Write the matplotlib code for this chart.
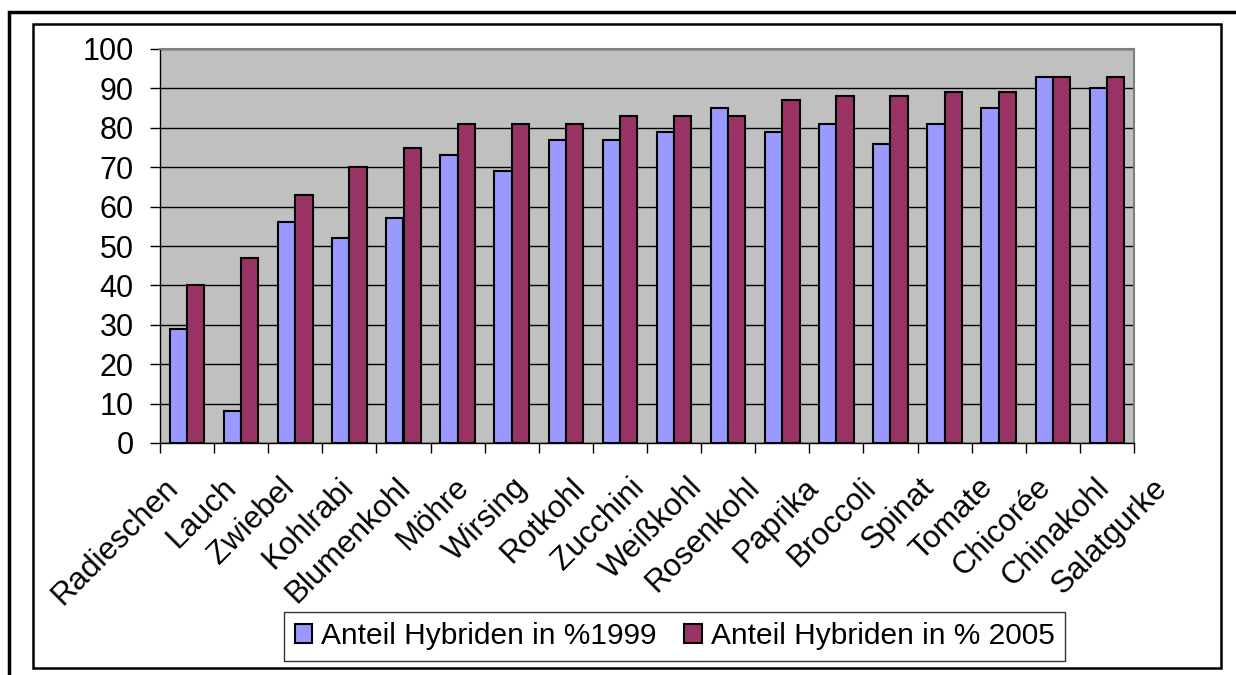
import numpy as np
import matplotlib.pyplot as plt
from matplotlib.patches import Rectangle

plt.rcParams['font.family'] = ['Liberation Sans', 'DejaVu Sans']

gemuese = ["Radieschen", "Lauch", "Zwiebel", "Kohlrabi", "Blumenkohl", "Möhre",
           "Wirsing", "Rotkohl", "Zucchini", "Weißkohl", "Rosenkohl", "Paprika",
           "Broccoli", "Spinat", "Tomate", "Chicorée", "Chinakohl", "Salatgurke"]
anteil_1999 = [29, 8, 56, 52, 57, 73, 69, 77, 77, 79, 85, 79, 81, 76, 81, 85, 93, 90]
anteil_2005 = [40, 47, 63, 70, 75, 81, 81, 81, 83, 83, 83, 87, 88, 88, 89, 89, 93, 93]
legende = ["Anteil Hybriden in %1999", "Anteil Hybriden in % 2005"]

fig = plt.figure(figsize=(12.36, 6.75), dpi=100)

# frames like the pasted excel chart
fig.patches.append(Rectangle((9 / 1236, -0.1), 1.2, 1 - 12 / 675 + 0.1, transform=fig.transFigure,
                             fill=False, edgecolor='black', lw=2.5, zorder=0))
fig.patches.append(Rectangle((33 / 1236, 1 - 668 / 675), (1221 - 33) / 1236, (668 - 24) / 675,
                             transform=fig.transFigure, fill=False, edgecolor='black', lw=1.8, zorder=0))

ax = fig.add_axes([160 / 1236, 1 - 443 / 675, (1134 - 160) / 1236, (443 - 49) / 675])
ax.set_facecolor('#C0C0C0')

x = np.arange(len(gemuese))
w = 0.32
ax.bar(x - w / 2, anteil_1999, w, color='#9999FF', edgecolor='black', lw=1.5, label=legende[0], zorder=3)
ax.bar(x + w / 2, anteil_2005, w, color='#993366', edgecolor='black', lw=1.5, label=legende[1], zorder=3)

ax.set_xlim(-0.5, len(gemuese) - 0.5)
ax.set_ylim(0, 100)
ax.set_yticks(range(0, 101, 10))
ax.yaxis.grid(True, color='black', lw=1)
ax.set_axisbelow(True)

ax.set_xticks(np.arange(len(gemuese) + 1) - 0.5)
ax.set_xticklabels([])
ax.tick_params(axis='x', which='major', length=7, width=1, direction='out')
ax.tick_params(axis='y', length=7, width=1, labelsize=22, pad=12)

# excel spreads the rotated labels a little wider than the categories
label_x = x * 1.075 - 0.44
for lx, name in zip(label_x, gemuese):
    ax.text(lx, -0.075, name, transform=ax.get_xaxis_transform(), rotation=45,
            ha='right', va='top', rotation_mode='anchor', fontsize=22.5, clip_on=False)

ax.spines['top'].set_color('#808080')
ax.spines['right'].set_color('#808080')
ax.spines['top'].set_linewidth(1.5)
ax.spines['right'].set_linewidth(1.5)
ax.spines['left'].set_linewidth(1)
ax.spines['bottom'].set_linewidth(1)

leg = fig.legend(loc='center', bbox_to_anchor=(674.5 / 1236, 1 - 636.5 / 675), ncol=2, fontsize=21.5,
                 frameon=True, fancybox=False, edgecolor='black', handlelength=0.6, handleheight=0.6,
                 handletextpad=0.3, columnspacing=0.9, borderpad=0.35)
leg.get_frame().set_linewidth(1)

fig.savefig("out.png", dpi=100)
